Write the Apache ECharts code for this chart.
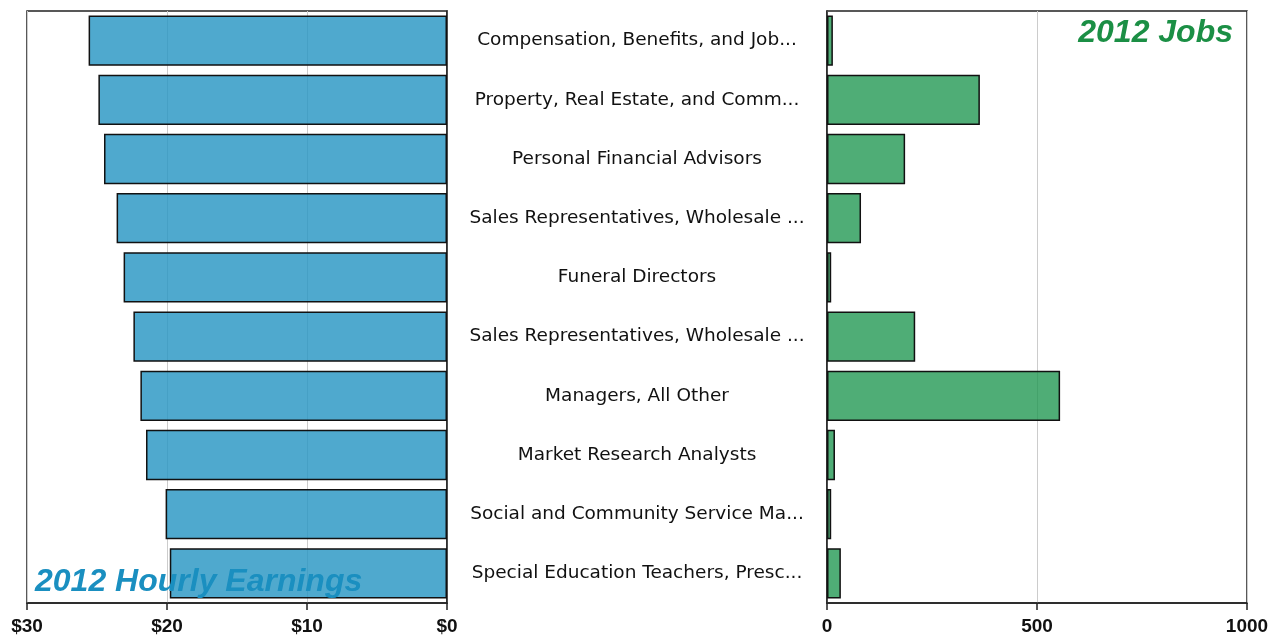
<!DOCTYPE html>
<html><head><meta charset="utf-8">
<script src="https://cdn.jsdelivr.net/npm/echarts@6/dist/echarts.min.js"></script>
<style>html,body{margin:0;padding:0;background:#fff}#c{width:1282px;height:640px}</style>
</head><body><div id="c"></div>
<script>
const categories = [
  "Compensation, Benefits, and Job...",
  "Property, Real Estate, and Comm...",
  "Personal Financial Advisors",
  "Sales Representatives, Wholesale ...",
  "Funeral Directors",
  "Sales Representatives, Wholesale ...",
  "Managers, All Other",
  "Market Research Analysts",
  "Social and Community Service Ma...",
  "Special Education Teachers, Presc..."
];
const hourlyEarnings = [25.6, 24.9, 24.5, 23.6, 23.1, 22.4, 21.9, 21.5, 20.1, 19.8];
const jobs2012 = [14, 364, 186, 81, 10, 210, 555, 19, 10, 33];
const earningsTicks = ["$0", "$10", "$20", "$30"];

const chart = echarts.init(document.getElementById('c'));
const axisLbl = {color:'#111', fontWeight:'bold', fontSize:19, fontFamily:'Liberation Sans, Arial, sans-serif', margin:14};
chart.setOption({
  animation:false,
  title:[
    {text:'2012 Hourly Earnings', left:30, top:561, textStyle:{color:'#1a8fc0', fontStyle:'italic', fontWeight:'bold', fontSize:32, fontFamily:'Liberation Sans, Arial, sans-serif'}},
    {text:'2012 Jobs', right:44, top:12, textStyle:{color:'#1b8f45', fontStyle:'italic', fontWeight:'bold', fontSize:32, fontFamily:'Liberation Sans, Arial, sans-serif'}}
  ],
  grid:[
    {left:27, width:420, top:11, height:592, show:true, borderColor:'#222', borderWidth:1.5, containLabel:false},
    {left:827, width:420, top:11, height:592, show:true, borderColor:'#222', borderWidth:1.5, containLabel:false}
  ],
  xAxis:[
    {gridIndex:0, type:'value', inverse:true, min:0, max:30, interval:10,
     axisLine:{show:true, lineStyle:{color:'#222', width:1.5}},
     axisTick:{show:true, length:7, lineStyle:{color:'#222', width:1.5}},
     splitLine:{show:true, lineStyle:{color:'#ccc', width:1}},
     axisLabel:Object.assign({}, axisLbl, {formatter:v=>earningsTicks[v/10]})},
    {gridIndex:1, type:'value', min:0, max:1000, interval:500,
     axisLine:{show:true, lineStyle:{color:'#222', width:1.5}},
     axisTick:{show:true, length:7, lineStyle:{color:'#222', width:1.5}},
     splitLine:{show:true, lineStyle:{color:'#ccc', width:1}},
     axisLabel:Object.assign({}, axisLbl, {formatter:v=>String(v)})}
  ],
  yAxis:[
    {gridIndex:0, type:'category', data:categories, inverse:true, position:'right',
     axisLine:{show:true, lineStyle:{color:'#222', width:1.5}}, axisTick:{show:false},
     axisLabel:{show:true, align:'center', margin:190, color:'#111', fontSize:18.5, padding:[12,0,0,0], fontFamily:'DejaVu Sans, sans-serif'}},
    {gridIndex:1, type:'category', data:categories, inverse:true,
     axisLine:{show:true, lineStyle:{color:'#222', width:1.5}}, axisTick:{show:false}, axisLabel:{show:false}}
  ],
  series:[
    {type:'bar', xAxisIndex:0, yAxisIndex:0, data:hourlyEarnings, barCategoryGap:'15%',
     itemStyle:{color:'rgba(40,150,195,0.82)', borderColor:'#111', borderWidth:1.5}, z:1},
    {type:'bar', xAxisIndex:1, yAxisIndex:1, data:jobs2012, barCategoryGap:'15%',
     itemStyle:{color:'rgba(30,150,80,0.78)', borderColor:'#111', borderWidth:1.5}, z:1}
  ]
});
</script></body></html>
